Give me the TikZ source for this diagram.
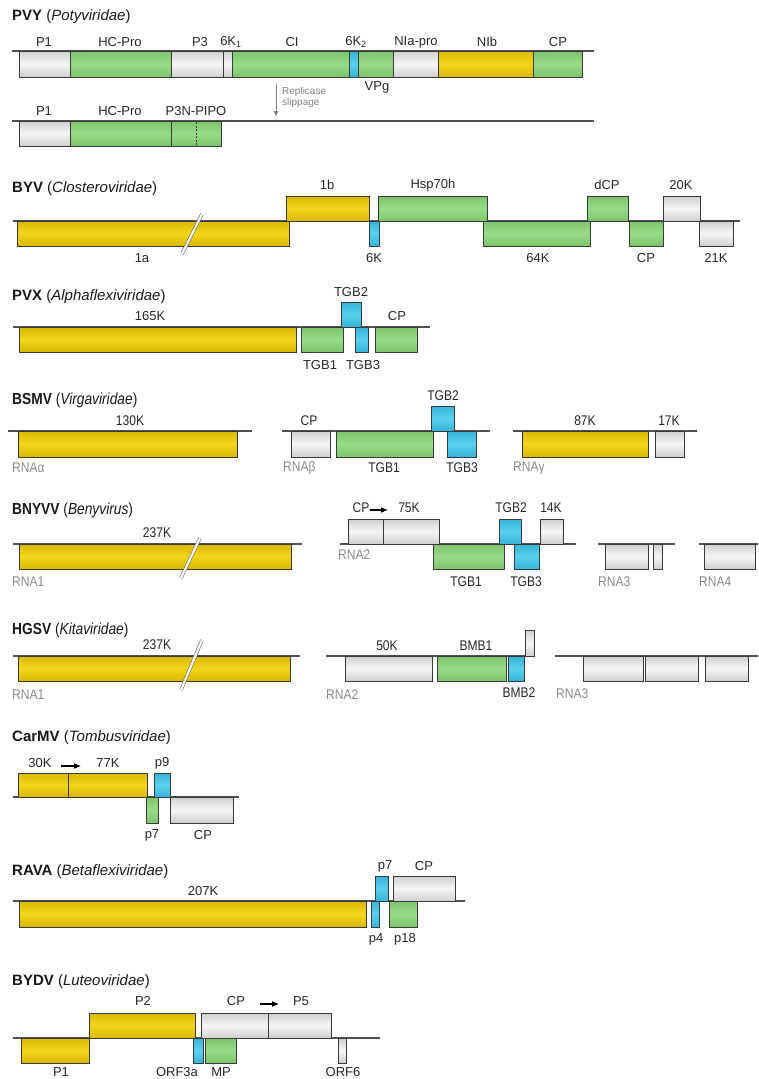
\documentclass[tikz,border=0pt]{standalone}
\usepackage{fontspec}
\setmainfont{Liberation Sans}
\newfontfamily\narrowfont[FakeStretch=0.86]{Liberation Sans}
\usetikzlibrary{arrows.meta}
\definecolor{bord}{HTML}{3A3A3A}
\definecolor{gl}{HTML}{505050}
\definecolor{yelE}{HTML}{D9B800}
\definecolor{yelM}{HTML}{F3D51C}
\definecolor{grnE}{HTML}{7CC46C}
\definecolor{grnM}{HTML}{98DC88}
\definecolor{bluE}{HTML}{34B4D8}
\definecolor{bluM}{HTML}{5CD0EE}
\definecolor{gryE}{HTML}{CFCFCF}
\definecolor{gryM}{HTML}{F6F6F6}
\definecolor{rnagray}{HTML}{8A8A8A}
\newcommand{\orfbox}[5]{\draw[#1] (#2,#3) rectangle (#4,#5);}
\tikzset{
  orf/.style={draw=bord, line width=0.9pt},
  yel/.style={orf, top color=yelE, bottom color=yelE, middle color=yelM},
  grn/.style={orf, top color=grnE, bottom color=grnE, middle color=grnM},
  blu/.style={orf, top color=bluE, bottom color=bluE, middle color=bluM},
  gry/.style={orf, top color=gryE, bottom color=gryE, middle color=gryM},
  gline/.style={draw=gl, line width=1.1pt},
  lab/.style={inner sep=0pt, font=\fontsize{13}{13}\selectfont, text=black!85},
  nlab/.style={inner sep=0pt, font=\narrowfont\fontsize{14}{14}\selectfont, text=black!85},
  rna/.style={inner sep=0pt, anchor=west, font=\narrowfont\fontsize{14}{14}\selectfont, text=rnagray},
  ttl/.style={inner sep=0pt, anchor=west, font=\fontsize{15}{15}\selectfont, text=black!90},
  nttl/.style={inner sep=0pt, anchor=west, font=\narrowfont\fontsize{16}{16}\selectfont, text=black!90},
  brk/.style={draw=gray!85!black, double=white, double distance=2.2pt, line width=0.6pt},
  trans/.style={-{Latex[length=7pt,width=6pt]}, line width=1.1pt, black},
}
\begin{document}
\begin{tikzpicture}[x=1pt,y=-1pt]
\useasboundingbox (0,0) rectangle (758,1079);

% ================= PVY =================
\node[ttl] (tPVY) at (12,17) {\textbf{PVY} (\textit{Potyviridae})};
\coordinate (pvyA) at (12,51); \coordinate (pvyB) at (594,51);
\draw[gline] (pvyA) -- (pvyB);
\orfbox{gry}{19}{51}{70}{77}
\orfbox{grn}{70}{51}{171}{77}
\orfbox{gry}{171}{51}{223}{77}
\orfbox{gry}{223}{51}{232}{77}
\orfbox{grn}{232}{51}{349}{77}
\orfbox{blu}{349}{51}{358}{77}
\orfbox{grn}{358}{51}{393}{77}
\orfbox{gry}{393}{51}{438}{77}
\orfbox{yel}{438}{51}{533}{77}
\orfbox{grn}{533}{51}{582}{77}
\node[lab] (pvy1) at (44,42) {P1};
\node[lab] (pvy2) at (120,42) {HC-Pro};
\node[lab] (pvy3) at (200,42) {P3};
\node[lab] (pvy4) at (231,42) {6K\textsubscript{1}};
\node[lab] (pvy5) at (292,42) {CI};
\node[lab] (pvy6) at (356,42) {6K\textsubscript{2}};
\node[lab] (pvy7) at (416,42) {NIa-pro};
\node[lab] (pvy8) at (487,42) {NIb};
\node[lab] (pvy9) at (558,42) {CP};
\node[lab] (pvy10) at (377,87) {VPg};
% second row
\coordinate (pvyC) at (12,121); \coordinate (pvyD) at (594,121);
\draw[gline] (pvyC) -- (pvyD);
\orfbox{gry}{19}{121}{70}{146}
\orfbox{grn}{70}{121}{171}{146}
\orfbox{grn}{171}{121}{221}{146}
\draw[bord, line width=1pt, dash pattern=on 2pt off 1.5pt] (196,122) -- (196,145);
\node[lab] (pvy11) at (44,111) {P1};
\node[lab] (pvy12) at (120,111) {HC-Pro};
\node[lab] (pvy13) at (196,111) {P3N-PIPO};
\coordinate (slipA) at (276,84); \coordinate (slipB) at (276,117);
\draw[-{Latex[length=6pt,width=5pt]}, gray, line width=1pt] (slipA) -- (slipB);
\node[inner sep=0pt, anchor=west, align=left, text=gray, font=\fontsize{10}{11}\selectfont] (slip) at (282,97) {Replicase\\slippage};

% ================= BYV =================
\node[ttl] (tBYV) at (12,189) {\textbf{BYV} (\textit{Closteroviridae})};
\coordinate (byvA) at (13,221); \coordinate (byvB) at (740,221);
\draw[gline] (byvA) -- (byvB);
\orfbox{yel}{17}{221}{289}{246}
\coordinate (byvK1) at (182,254); \coordinate (byvK2) at (202,214);
\draw[brk] (byvK1) -- (byvK2);
\orfbox{yel}{286}{196}{369}{221}
\orfbox{blu}{369}{221}{379}{246}
\orfbox{grn}{378}{196}{487}{221}
\orfbox{grn}{483}{221}{590}{246}
\orfbox{grn}{587}{196}{628}{221}
\orfbox{grn}{629}{221}{663}{246}
\orfbox{gry}{663}{196}{700}{221}
\orfbox{gry}{699}{221}{733}{246}
\node[lab] (byv1) at (142,258) {1a};
\node[lab] (byv2) at (327,185) {1b};
\node[lab] (byv3) at (374,258) {6K};
\node[lab] (byv4) at (433,185) {Hsp70h};
\node[lab] (byv5) at (538,258) {64K};
\node[lab] (byv6) at (607,185) {dCP};
\node[lab] (byv7) at (646,258) {CP};
\node[lab] (byv8) at (681,185) {20K};
\node[lab] (byv9) at (716,258) {21K};

% ================= PVX =================
\node[ttl] (tPVX) at (12,297) {\textbf{PVX} (\textit{Alphaflexiviridae})};
\coordinate (pvxA) at (13,327); \coordinate (pvxB) at (430,327);
\draw[gline] (pvxA) -- (pvxB);
\orfbox{yel}{19}{327}{296}{352}
\orfbox{grn}{301}{327}{343}{352}
\orfbox{blu}{341}{302}{361}{327}
\orfbox{blu}{355}{327}{368}{352}
\orfbox{grn}{375}{327}{417}{352}
\node[lab] (pvx1) at (150,316) {165K};
\node[lab] (pvx2) at (320,365) {TGB1};
\node[lab] (pvx3) at (351,292) {TGB2};
\node[lab] (pvx4) at (363,365) {TGB3};
\node[lab] (pvx5) at (397,316) {CP};

% ================= BSMV =================
\node[nttl] (tBSMV) at (12,400) {\textbf{BSMV} (\textit{Virgaviridae})};
\coordinate (bsA1) at (8,431); \coordinate (bsA2) at (252,431);
\draw[gline] (bsA1) -- (bsA2);
\orfbox{yel}{18}{431}{237}{457}
\node[nlab] (bs1) at (130,421) {130K};
\node[rna] (bsRa) at (12,468) {RNAα};
\coordinate (bsB1) at (282,431); \coordinate (bsB2) at (490,431);
\draw[gline] (bsB1) -- (bsB2);
\orfbox{gry}{291}{431}{330}{457}
\orfbox{grn}{336}{431}{433}{457}
\orfbox{blu}{431}{406}{454}{431}
\orfbox{blu}{447}{431}{476}{457}
\node[nlab] (bs2) at (309,421) {CP};
\node[nlab] (bs3) at (384,468) {TGB1};
\node[nlab] (bs4) at (443,396) {TGB2};
\node[nlab] (bs5) at (462,468) {TGB3};
\node[rna] (bsRb) at (283,468) {RNAβ};
\coordinate (bsC1) at (513,431); \coordinate (bsC2) at (697,431);
\draw[gline] (bsC1) -- (bsC2);
\orfbox{yel}{522}{431}{648}{457}
\orfbox{gry}{655}{431}{684}{457}
\node[nlab] (bs6) at (585,421) {87K};
\node[nlab] (bs7) at (669,421) {17K};
\node[rna] (bsRg) at (513,468) {RNAγ};

% ================= BNYVV =================
\node[nttl] (tBNYVV) at (12,510) {\textbf{BNYVV} (\textit{Benyvirus})};
\coordinate (bnA1) at (13,544); \coordinate (bnA2) at (302,544);
\draw[gline] (bnA1) -- (bnA2);
\orfbox{yel}{19}{544}{291}{569}
\coordinate (bnK1) at (181,578); \coordinate (bnK2) at (200,538);
\draw[brk] (bnK1) -- (bnK2);
\node[nlab] (bn1) at (157,533) {237K};
\node[rna] (bnR1) at (12,582) {RNA1};
\coordinate (bnB1) at (340,544); \coordinate (bnB2) at (576,544);
\draw[gline] (bnB1) -- (bnB2);
\orfbox{gry}{348}{519}{383}{544}
\orfbox{gry}{383}{519}{439}{544}
\orfbox{grn}{433}{544}{504}{569}
\orfbox{blu}{499}{519}{521}{544}
\orfbox{blu}{514}{544}{539}{569}
\orfbox{gry}{540}{519}{563}{544}
\node[nlab] (bn2) at (361,508) {CP};
\node[nlab] (bn3) at (409,508) {75K};
\coordinate (bnT1) at (370,510); \coordinate (bnT2) at (388,510);
\draw[trans] (bnT1) -- (bnT2);
\node[nlab] (bn4) at (466,582) {TGB1};
\node[nlab] (bn5) at (511,508) {TGB2};
\node[nlab] (bn6) at (526,582) {TGB3};
\node[nlab] (bn7) at (551,508) {14K};
\node[rna] (bnR2) at (338,555) {RNA2};
\coordinate (bnC1) at (598,544); \coordinate (bnC2) at (675,544);
\draw[gline] (bnC1) -- (bnC2);
\orfbox{gry}{605}{544}{648}{569}
\orfbox{gry}{653}{544}{662}{569}
\node[rna] (bnR3) at (598,582) {RNA3};
\coordinate (bnD1) at (699,544); \coordinate (bnD2) at (758,544);
\draw[gline] (bnD1) -- (bnD2);
\orfbox{gry}{704}{544}{755}{569}
\node[rna] (bnR4) at (699,582) {RNA4};

% ================= HGSV =================
\node[nttl] (tHGSV) at (12,630) {\textbf{HGSV} (\textit{Kitaviridae})};
\coordinate (hgA1) at (13,656); \coordinate (hgA2) at (300,656);
\draw[gline] (hgA1) -- (hgA2);
\orfbox{yel}{18}{656}{290}{681}
\coordinate (hgK1) at (181,690); \coordinate (hgK2) at (202,640);
\draw[brk] (hgK1) -- (hgK2);
\node[nlab] (hg1) at (157,645) {237K};
\node[rna] (hgR1) at (12,695) {RNA1};
\coordinate (hgB1) at (326,656); \coordinate (hgB2) at (534,656);
\draw[gline] (hgB1) -- (hgB2);
\orfbox{gry}{345}{656}{432}{681}
\orfbox{grn}{437}{656}{506}{681}
\orfbox{blu}{508}{656}{524}{681}
\orfbox{gry}{525}{630}{534}{656}
\node[nlab] (hg2) at (387,646) {50K};
\node[nlab] (hg3) at (476,646) {BMB1};
\node[nlab] (hg4) at (519,693) {BMB2};
\node[rna] (hgR2) at (326,695) {RNA2};
\coordinate (hgC1) at (555,656); \coordinate (hgC2) at (758,656);
\draw[gline] (hgC1) -- (hgC2);
\orfbox{gry}{583}{656}{643}{681}
\orfbox{gry}{645}{656}{698}{681}
\orfbox{gry}{705}{656}{748}{681}
\node[rna] (hgR3) at (556,694) {RNA3};

% ================= CarMV =================
\node[ttl] (tCarMV) at (12,738) {\textbf{CarMV} (\textit{Tombusviridae})};
\coordinate (cmA) at (13,797); \coordinate (cmB) at (239,797);
\draw[gline] (cmA) -- (cmB);
\orfbox{yel}{18}{773}{68}{797}
\orfbox{yel}{68}{773}{147}{797}
\orfbox{blu}{154}{773}{170}{797}
\orfbox{grn}{146}{797}{158}{823}
\orfbox{gry}{170}{797}{233}{823}
\node[lab] (cm1) at (40,763) {30K};
\node[lab] (cm2) at (108,763) {77K};
\coordinate (cmT1) at (61,766); \coordinate (cmT2) at (81,766);
\draw[trans] (cmT1) -- (cmT2);
\node[lab] (cm3) at (162,763) {p9};
\node[lab] (cm4) at (152,835) {p7};
\node[lab] (cm5) at (203,835) {CP};

% ================= RAVA =================
\node[ttl] (tRAVA) at (12,872) {\textbf{RAVA} (\textit{Betaflexiviridae})};
\coordinate (raA) at (13,901); \coordinate (raB) at (465,901);
\draw[gline] (raA) -- (raB);
\orfbox{yel}{19}{901}{366}{927}
\orfbox{blu}{371}{901}{379}{927}
\orfbox{blu}{375}{876}{388}{901}
\orfbox{grn}{389}{901}{417}{927}
\orfbox{gry}{393}{876}{455}{901}
\node[lab] (ra1) at (203,891) {207K};
\node[lab] (ra2) at (376,939) {p4};
\node[lab] (ra3) at (385,866) {p7};
\node[lab] (ra4) at (405,939) {p18};
\node[lab] (ra5) at (424,866) {CP};

% ================= BYDV =================
\node[ttl] (tBYDV) at (12,982) {\textbf{BYDV} (\textit{Luteoviridae})};
\coordinate (byA) at (13,1038); \coordinate (byB) at (380,1038);
\draw[gline] (byA) -- (byB);
\orfbox{yel}{21}{1038}{89}{1063}
\orfbox{yel}{89}{1013}{195}{1038}
\orfbox{blu}{193}{1038}{203}{1063}
\orfbox{grn}{205}{1038}{236}{1063}
\orfbox{gry}{201}{1013}{268}{1038}
\orfbox{gry}{268}{1013}{331}{1038}
\orfbox{gry}{338}{1038}{346}{1063}
\node[lab] (by1) at (61,1072) {P1};
\node[lab] (by2) at (143,1001) {P2};
\node[lab] (by3) at (177,1072) {ORF3a};
\node[lab] (by4) at (221,1072) {MP};
\node[lab] (by5) at (236,1001) {CP};
\node[lab] (by6) at (301,1001) {P5};
\coordinate (byT1) at (260,1004); \coordinate (byT2) at (279,1004);
\draw[trans] (byT1) -- (byT2);
\node[lab] (by7) at (343,1072) {ORF6};
\end{tikzpicture}
\end{document}
